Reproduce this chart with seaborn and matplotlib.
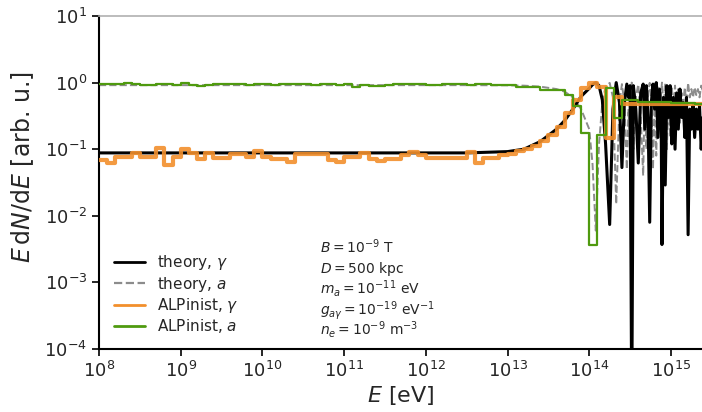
import numpy as np
import pandas as pd
import matplotlib
matplotlib.use("Agg")
import matplotlib.pyplot as plt
import seaborn as sns

# ---- theory curves (log10 energy in eV, flux in arb. units) ----
theory_logE = [
    8.0, 12.0, 12.5, 13.0, 13.2, 13.4, 13.6, 13.7, 13.8, 13.9, 14.0, 14.04,
    14.08, 14.12, 14.16, 14.20, 14.25, 14.29, 14.33, 14.37, 14.40, 14.43,
    14.46, 14.48, 14.50, 14.52, 14.54, 14.57, 14.60, 14.63, 14.66, 14.68,
    14.70, 14.72, 14.74, 14.76, 14.78, 14.80, 14.82, 14.84, 14.86, 14.88,
    14.89, 14.91, 14.93, 14.95, 14.97, 14.99, 15.01, 15.03, 15.05, 15.07,
    15.09, 15.11, 15.13, 15.15, 15.17, 15.19, 15.21, 15.23, 15.25, 15.27,
    15.29, 15.31, 15.33, 15.35, 15.37, 15.39,
]
theory_gamma = [
    0.088, 0.088, 0.088, 0.092, 0.10, 0.13, 0.20, 0.27, 0.40, 0.62, 0.82, 0.93,
    1.00, 0.90, 0.55, 0.12, 0.0074, 0.40, 1.00, 0.50, 0.053, 0.50,
    0.95, 0.60, 0.90, 1e-5, 0.90, 0.40, 0.062, 0.70, 0.95, 0.20,
    0.90, 0.30, 0.008, 0.50, 0.95, 0.40, 1.00, 0.15, 0.80, 0.30,
    0.0037, 0.60, 0.029, 0.90, 0.30, 0.90, 0.12, 0.60, 0.10, 0.70,
    0.20, 0.80, 0.30, 0.50, 0.15, 0.60, 0.0052, 0.40, 0.20, 0.45,
    0.15, 0.40, 0.20, 0.45, 0.10, 0.30,
]
theory_axion = [
    0.915, 0.915, 0.915, 0.91, 0.90, 0.87, 0.80, 0.73, 0.60, 0.40, 0.20, 0.06,
    0.006, 0.12, 0.50, 0.86, 0.99, 0.60, 0.015, 0.50, 0.95, 0.50,
    0.05, 0.40, 0.10, 1.00, 0.10, 0.60, 0.94, 0.30, 0.04, 0.80,
    0.10, 0.70, 0.99, 0.50, 0.05, 0.60, 0.08, 0.85, 0.20, 0.70,
    1.00, 0.40, 0.97, 0.10, 0.70, 0.15, 0.88, 0.40, 0.90, 0.30,
    0.80, 0.25, 0.70, 0.50, 0.85, 0.45, 0.99, 0.60, 0.80, 0.60,
    0.85, 0.65, 0.80, 0.60, 0.90, 0.75,
]

# ---- ALPinist histograms: 0.1-dex bins starting at 1e8 eV ----
bin_width_dex = 0.1
alp_gamma = [
    0.069, 0.063, 0.077, 0.077, 0.088, 0.077, 0.077, 0.105, 0.058, 0.077,
    0.101, 0.088, 0.072, 0.088, 0.074, 0.074, 0.085, 0.085, 0.077, 0.095,
    0.077, 0.072, 0.072, 0.065, 0.085, 0.085, 0.085, 0.085, 0.069, 0.065,
    0.077, 0.077, 0.088, 0.072, 0.067, 0.072, 0.072, 0.082, 0.091, 0.082,
    0.074, 0.074, 0.074, 0.074, 0.074, 0.091, 0.063, 0.074, 0.074, 0.082,
    0.085, 0.095, 0.100, 0.112, 0.133, 0.164, 0.217, 0.351, 0.550, 0.833,
    0.990, 0.862, 0.148, 0.610, 0.470, 0.470, 0.480, 0.480, 0.480, 0.480,
    0.475, 0.475, 0.470, 0.470,
]
alp_axion = [
    0.94, 0.94, 0.94, 0.99, 0.94, 0.93, 0.93, 0.94, 0.94, 0.93,
    0.98, 0.93, 0.88, 0.93, 0.95, 0.94, 0.94, 0.94, 0.93, 0.94,
    0.94, 0.93, 0.94, 0.95, 0.94, 0.94, 0.93, 0.94, 0.94, 0.93,
    0.94, 0.87, 0.93, 0.89, 0.89, 0.93, 0.94, 0.94, 0.95, 0.94,
    0.93, 0.93, 0.94, 0.94, 0.95, 0.93, 0.94, 0.95, 0.93, 0.93,
    0.92, 0.86, 0.86, 0.86, 0.78, 0.78, 0.78, 0.65, 0.447, 0.176,
    0.0037, 0.164, 0.83, 0.296, 0.55, 0.55, 0.51, 0.51, 0.51, 0.51,
    0.50, 0.50, 0.49, 0.48,
]

labels = [r"theory, $\gamma$", r"theory, $a$",
          r"ALPinist, $\gamma$", r"ALPinist, $a$"]
params = [
    r"$B = 10^{-9}$ T",
    r"$D = 500$ kpc",
    r"$m_a = 10^{-11}$ eV",
    r"$g_{a\gamma} = 10^{-19}$ eV$^{-1}$",
    r"$n_e = 10^{-9}$ m$^{-3}$",
]

sns.set_theme(style="ticks")
plt.rcParams["font.family"] = ["DejaVu Sans"]
plt.rcParams["mathtext.fontset"] = "dejavusans"

W, H = 702, 412
fig = plt.figure(figsize=(W / 100, H / 100), dpi=100)
ax = fig.add_axes([99 / W, 63 / H, (W - 99) / W, 333 / H])
ax.set_xscale("log")
ax.set_yscale("log")

theory = pd.DataFrame({
    "E": 10.0 ** np.array(theory_logE),
    "gamma": theory_gamma,
    "axion": theory_axion,
})

n_bins = len(alp_gamma)
edges = 10.0 ** (8.0 + bin_width_dex * np.arange(n_bins + 1))
hist = pd.DataFrame({
    "E": edges,
    "gamma": alp_gamma + alp_gamma[-1:],
    "axion": alp_axion + alp_axion[-1:],
})

sns.lineplot(data=theory, x="E", y="gamma", ax=ax, color="black",
             lw=2.2, sort=False, label=labels[0], zorder=3)
sns.lineplot(data=theory, x="E", y="axion", ax=ax, color="#8c8c8c",
             lw=1.4, ls="--", sort=False, label=labels[1], zorder=2)
sns.lineplot(data=hist, x="E", y="gamma", ax=ax, color="#f28f2c",
             lw=3.0, drawstyle="steps-post", sort=False, label=labels[2],
             alpha=0.9, zorder=4)
sns.lineplot(data=hist, x="E", y="axion", ax=ax, color="#4f9a0f",
             lw=1.6, drawstyle="steps-post", sort=False, label=labels[3],
             zorder=5)

ax.set_xlim(1e8, 10 ** 15.38)
ax.set_ylim(1e-4, 10)
ax.set_xlabel(r"$E$ [eV]", fontsize=16, labelpad=2)
ax.set_ylabel(r"$E\,\mathrm{d}N/\mathrm{d}E$ [arb. u.]", fontsize=17)
ax.yaxis.set_label_coords(-0.105, 0.545)

ax.xaxis.set_major_locator(matplotlib.ticker.LogLocator(base=10, numticks=20))
ax.xaxis.set_minor_locator(matplotlib.ticker.NullLocator())
ax.yaxis.set_major_locator(matplotlib.ticker.LogLocator(base=10, numticks=20))
ax.yaxis.set_minor_locator(matplotlib.ticker.NullLocator())
ax.tick_params(axis="both", which="major", labelsize=13, length=5,
               width=1.2, direction="out", color="black")

for side in ("left", "bottom"):
    ax.spines[side].set_color("black")
    ax.spines[side].set_linewidth(1.5)
ax.spines["right"].set_visible(False)
ax.spines["top"].set_color("#b0b0b0")
ax.spines["top"].set_linewidth(1.2)

leg = ax.legend(loc="lower left", bbox_to_anchor=(0.002, 0.0), frameon=False,
                fontsize=11, handlelength=2.0, labelspacing=0.15,
                handletextpad=0.8)
for h in leg.get_lines():
    h.set_alpha(1.0)
    h.set_linewidth(2.0 if h.get_linestyle() != "--" else 1.6)

# parameter block, one line per baseline
for i, line in enumerate(params):
    fig.text(320 / W, 1 - (253 + 20.5 * i) / H, line, fontsize=10,
             va="baseline", ha="left")

fig.savefig("out.png", dpi=100)
